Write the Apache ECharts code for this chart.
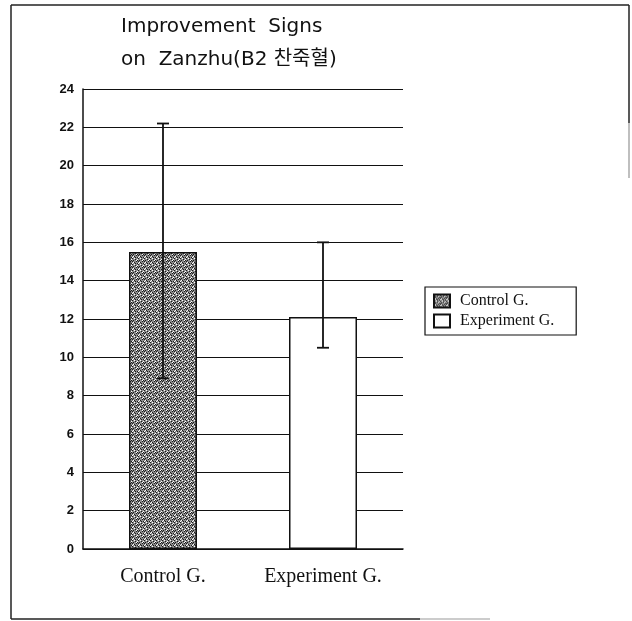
<!DOCTYPE html>
<html>
<head>
    <meta charset="UTF-8">
    <title>Improvement Signs on Zanzhu</title>
    <script src="https://cdn.jsdelivr.net/npm/echarts@6/dist/echarts.min.js"></script>
    <style>
        html, body { margin: 0; padding: 0; background: #fff; }
        #chart { width: 632px; height: 621px; }
    </style>
</head>
<body>
<div id="chart"></div>
<script type="text/javascript">
    // 数据
    let groups = ['Control G.', 'Experiment G.'];
    let means = [15.5, 12.1];
    let errLow = [8.9, 10.5];
    let errHigh = [22.2, 16.0];
    let yTicks = [0, 2, 4, 6, 8, 10, 12, 14, 16, 18, 20, 22, 24];

    // stippled fill for the control bar
    function makeStipple() {
        let c = document.createElement('canvas');
        c.width = 6; c.height = 6;
        let ctx = c.getContext('2d');
        ctx.fillStyle = '#8c8c8c';
        ctx.fillRect(0, 0, 6, 6);
        let dark = [[0,0],[3,1],[1,2],[4,3],[2,4],[5,5],[0,3],[3,5],[5,2]];
        let light = [[2,0],[5,1],[0,5],[4,2],[1,4]];
        ctx.fillStyle = '#1a1a1a';
        dark.forEach(p => ctx.fillRect(p[0], p[1], 1, 1));
        ctx.fillStyle = '#fff';
        light.forEach(p => ctx.fillRect(p[0], p[1], 1, 1));
        return c;
    }
    let stipple = { image: makeStipple(), repeat: 'repeat' };

    let chart = echarts.init(document.getElementById('chart'));
    let option = {
        backgroundColor: '#fff',
        animation: false,
        title: {
            text: 'Improvement  Signs\non  Zanzhu(B2 찬죽혈)',
            left: 116,
            top: 5,
            textStyle: {
                fontFamily: 'DejaVu Sans, Noto Sans CJK KR',
                fontSize: 20,
                fontWeight: 'normal',
                color: '#111',
                lineHeight: 33
            }
        },
        legend: {
            orient: 'vertical',
            left: 425,
            top: 287,
            padding: [6, 22, 6, 8],
            itemGap: 4,
            itemWidth: 16,
            itemHeight: 13,
            icon: 'rect',
            borderColor: '#111',
            borderWidth: 1.2,
            borderRadius: 0,
            data: groups,
            textStyle: {
                fontFamily: 'Liberation Serif, DejaVu Serif',
                fontSize: 16,
                color: '#111',
                padding: [0, 0, 0, 5]
            }
        },
        grid: {
            left: 83,
            right: 229,
            top: 89,
            bottom: 72
        },
        xAxis: {
            type: 'category',
            data: groups,
            axisLine: { lineStyle: { color: '#111', width: 1.5 } },
            axisTick: { show: false },
            axisLabel: {
                margin: 18,
                fontFamily: 'Liberation Serif, DejaVu Serif',
                fontSize: 20,
                color: '#111'
            }
        },
        yAxis: {
            type: 'value',
            min: yTicks[0],
            max: yTicks[yTicks.length - 1],
            interval: 2,
            axisLine: { show: true, lineStyle: { color: '#111', width: 1.5 } },
            axisTick: { show: false },
            axisLabel: {
                margin: 9,
                fontFamily: 'Liberation Sans, DejaVu Sans',
                fontSize: 13,
                fontWeight: 'bold',
                color: '#111'
            },
            splitLine: { lineStyle: { color: '#111', width: 1.2 } }
        },
        series: [
            {
                name: groups[0],
                type: 'bar',
                stack: 'g',
                barWidth: 68,
                data: [means[0], '-'],
                itemStyle: { color: stipple, borderColor: '#111', borderWidth: 1.5 }
            },
            {
                name: groups[1],
                type: 'bar',
                stack: 'g',
                barWidth: 68,
                data: ['-', means[1]],
                itemStyle: { color: '#fff', borderColor: '#111', borderWidth: 1.5 }
            },
            {
                type: 'custom',
                name: 'err',
                z: 10,
                data: groups.map((g, i) => [i, errLow[i], errHigh[i]]),
                renderItem: function (params, api) {
                    let lo = api.coord([api.value(0), api.value(1)]);
                    let hi = api.coord([api.value(0), api.value(2)]);
                    let hw = 6;
                    let st = { stroke: '#111', lineWidth: 1.8 };
                    return {
                        type: 'group',
                        children: [
                            { type: 'line', shape: { x1: hi[0], y1: hi[1], x2: lo[0], y2: lo[1] }, style: st },
                            { type: 'line', shape: { x1: hi[0] - hw, y1: hi[1], x2: hi[0] + hw, y2: hi[1] }, style: st },
                            { type: 'line', shape: { x1: lo[0] - hw, y1: lo[1], x2: lo[0] + hw, y2: lo[1] }, style: st }
                        ]
                    };
                }
            }
        ],
        graphic: [
            { type: 'line', shape: { x1: 11, y1: 5, x2: 629, y2: 5 }, style: { stroke: '#222', lineWidth: 1.5 } },
            { type: 'line', shape: { x1: 11, y1: 5, x2: 11, y2: 619 }, style: { stroke: '#222', lineWidth: 1.5 } },
            { type: 'line', shape: { x1: 11, y1: 619, x2: 420, y2: 619 }, style: { stroke: '#222', lineWidth: 1.5 } },
            { type: 'line', shape: { x1: 420, y1: 619, x2: 490, y2: 619 }, style: { stroke: '#bbb', lineWidth: 1.5 } },
            { type: 'line', shape: { x1: 629, y1: 5, x2: 629, y2: 123 }, style: { stroke: '#222', lineWidth: 1.5 } },
            { type: 'line', shape: { x1: 629, y1: 123, x2: 629, y2: 178 }, style: { stroke: '#aaa', lineWidth: 1.5 } }
        ]
    };
    chart.setOption(option);
</script>
</body>
</html>
